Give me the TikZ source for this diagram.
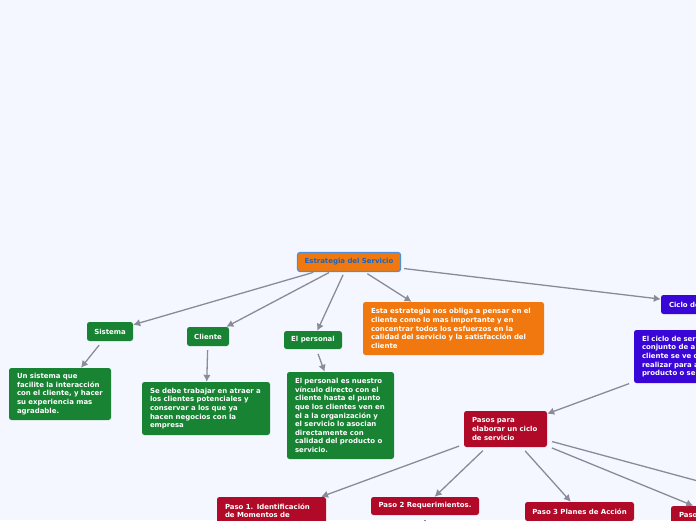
\documentclass[tikz,border=0pt]{standalone}
\usepackage{fontspec}
\setmainfont{DejaVu Sans}
\usetikzlibrary{
    arrows.meta,
    calc
}
\definecolor{bgblue}{HTML}{F4F7FF}
\definecolor{rootorange}{HTML}{F0780E}
\definecolor{rootline}{HTML}{4A90E2}
\definecolor{roottext}{HTML}{1565C8}
\definecolor{boxgreen}{HTML}{188433}
\definecolor{boxviolet}{HTML}{3A06D8}
\definecolor{boxred}{HTML}{B00A28}
\definecolor{connline}{HTML}{8A8A98}
\tikzset{sbox/.style={inner xsep=8pt, inner ysep=2pt, rounded corners=2.5pt, text=white, align=left, font=\fontsize{6.95}{8.6}\selectfont\bfseries}}
\tikzset{sgreen/.style={sbox, fill=boxgreen}}
\tikzset{sorange/.style={sbox, fill=rootorange}}
\tikzset{sviolet/.style={sbox, fill=boxviolet}}
\tikzset{sred/.style={sbox, fill=boxred}}
\tikzset{stitle/.style={inner xsep=3pt, align=center}}
\tikzset{conn/.style={draw=connline, line width=1.3pt, -{Latex[width=7.5pt, length=7pt]}, shorten <=5pt}}

\begin{document}
\begin{tikzpicture}[x=1pt, y=-1pt]
    \useasboundingbox (0, 0) rectangle (696, 520);
    \fill[bgblue] (0, 0) rectangle (696, 520);

    \node[sorange, stitle, draw=rootline, line width=1.2pt, text=roottext, minimum width=103pt, minimum height=19pt] (root) at (349, 262) {Estrategia del Servicio};
    \node[sorange, text width=165pt, minimum height=53pt] (idea) at (453.5, 328.5) {Esta estrategia nos obliga a pensar en el\\cliente como lo mas importante y en\\concentrar todos los esfuerzos en la\\calidad del servicio y la satisfacción del\\cliente};

    \node[sgreen, stitle, minimum width=46pt, minimum height=19pt] (sistema) at (110, 331.5) {Sistema};
    \node[sgreen, stitle, minimum width=42pt, minimum height=19pt] (cliente) at (208, 336.5) {Cliente};
    \node[sgreen, stitle, minimum width=58pt, minimum height=18pt] (personal) at (313, 340) {El personal};

    \node[sgreen, text width=86pt, minimum height=52pt] (sistemadesc) at (60, 394) {Un sistema que\\facilite la interacción\\con el cliente, y hacer\\su experiencia mas\\agradable.};
    \node[sgreen, text width=112pt, minimum height=53pt] (clientedesc) at (206, 408.5) {Se debe trabajar en atraer a\\los clientes potenciales y\\conservar a los que ya\\hacen negocios con la\\empresa};
    \node[sgreen, text width=91pt, minimum height=87pt] (personaldesc) at (340.5, 415.5) {El personal es nuestro\\vínculo directo con el\\cliente hasta el punto\\que los clientes ven en\\el a la organización y\\el servicio lo asocian\\directamente con\\calidad del producto o\\servicio.};

    \node[sviolet, text width=74pt, minimum height=19pt] (ciclo) at (706, 304.5) {Ciclo de};
    \node[sviolet, text width=122pt, minimum height=53pt] (ciclodesc) at (703, 356.5) {El ciclo de ser\\conjunto de a\\cliente se ve o\\realizar para a\\producto o ser};

    \node[sred, text width=67pt, minimum height=36pt] (pasos) at (505.5, 429) {Pasos para\\elaborar un ciclo\\de servicio};
    \node[sred, text width=93pt, minimum height=36pt] (paso1) at (271.5, 515) {Paso 1. Identificación\\de Momentos de\\\mbox{}};
    \node[sred, stitle, minimum width=108pt, minimum height=18pt] (paso2) at (425, 506) {Paso 2 Requerimientos.};
    \node[sred, stitle, minimum width=109pt, minimum height=19pt] (paso3) at (579.5, 511.5) {Paso 3 Planes de Acción};
    \node[sred, text width=76pt, minimum height=19pt] (paso4) at (717, 515.5) {Paso};

    \coordinate (pasoextra) at (770, 500.5);
    \coordinate (paso2hijo) at (425, 540);

    \draw[conn, shorten <=1pt] (root) -- (sistema);
    \draw[conn, shorten <=1pt] (root) -- (cliente);
    \draw[conn, shorten <=3pt] (root) -- (personal);
    \draw[conn, shorten <=3pt] (root) -- (idea);
    \draw[conn, shorten <=3pt] (root) -- (ciclo);
    \draw[conn] (sistema) -- (sistemadesc);
    \draw[conn, shorten <=4pt] (cliente) -- (clientedesc);
    \draw[conn] (personal) -- (personaldesc);
    \draw[conn] (ciclodesc) -- (pasos);
    \draw[conn] (pasos) -- (paso1);
    \draw[conn] (pasos) -- (paso2);
    \draw[conn] (pasos) -- (paso3);
    \draw[conn] (pasos) -- (paso4);
    \draw[conn] (pasos) -- (pasoextra);
    \draw[conn] (paso2) -- (paso2hijo);
\end{tikzpicture}
\end{document}
